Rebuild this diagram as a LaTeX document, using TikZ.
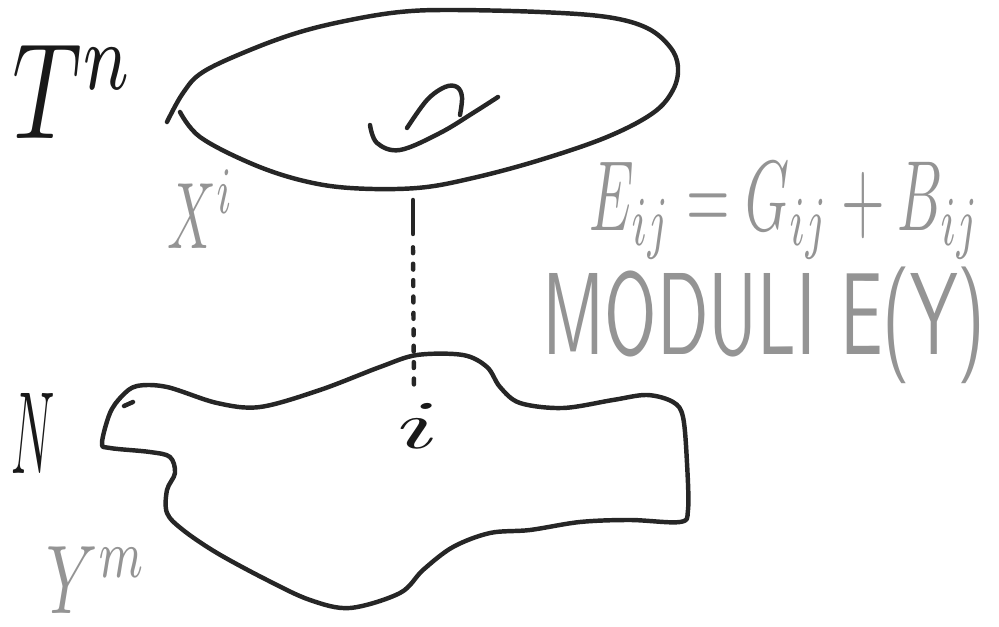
\documentclass[tikz,border=0pt]{standalone}
\usepackage{graphicx}
\begin{document}
\begin{tikzpicture}[x=0.03cm,y=-0.03cm,
  ink/.style={draw=black!85,line width=3.8pt,line cap=round,line join=round},
  pen/.style={inner sep=0pt,text=black!90},
  pencil/.style={inner sep=0pt,text=black!42}]
\useasboundingbox (0,0) rectangle (999,627);
% torus T^n
\draw[ink] plot[smooth,tension=0.6] coordinates {(167,122) (183,93) (203,72) (250,50) (300,32) (350,20) (400,12) (450,10) (540,12) (607,17) (647,28) (670,47) (678,67) (673,90) (653,113) (607,137) (540,160) (473,178) (417,188) (350,188) (300,180) (250,163) (200,137) (180,112)};
% hole
\draw[ink] plot[smooth,tension=0.6] coordinates {(370,125) (377,143) (400,150) (440,133) (473,113) (498,97)};
\draw[ink] plot[smooth,tension=0.6] coordinates {(407,128) (427,100) (445,87) (457,87) (462,97) (460,115)};
% manifold N
\draw[ink] plot[smooth cycle,tension=0.55] coordinates {(137,386) (167,387) (217,403) (260,407) (320,390) (380,367) (417,355) (463,355) (487,367) (500,387) (520,403) (563,408) (613,400) (647,395) (673,402) (683,417) (687,463) (688,510) (680,522) (630,520) (580,522) (530,530) (490,533) (453,547) (423,570) (400,593) (350,608) (310,600) (267,580) (217,553) (183,530) (167,513) (167,490) (175,473) (170,457) (150,452) (110,448) (102,443) (110,413) (122,396)};
\draw[ink] (133,402) -- (124,406);
% dashed fibre
\coordinate (ftop) at (413,200);
\coordinate (fmid) at (413,234);
\coordinate (fbot) at (414,392);
\draw[ink] (ftop) -- (fmid);
\draw[ink,dash pattern=on 5pt off 9pt] ([yshift=-0.4cm]fmid) -- (fbot);
% labels
\node[pen] (tn) at (74,92) {\resizebox*{3.66cm}{2.8cm}{$T^{n}$}};
\node[pencil] (xi) at (201,209) {\resizebox*{2.0cm}{2.34cm}{$X^{i}$}};
\node[pencil] (eq) at (785,211) {\resizebox*{11.7cm}{2.9cm}{$E_{ij}=G_{ij}+B_{ij}$}};
\node[pencil] (mod) at (764,325) {\resizebox*{13.3cm}{3.5cm}{\textsf{MODULI E(Y)}}};
\node[pen] (n) at (33,433) {\resizebox*{1.3cm}{2.4cm}{$N$}};
\node[pencil] (ym) at (97,580) {\resizebox*{3.0cm}{2.0cm}{$Y^{m}$}};
\node[pen] (il) at (419,426) {\resizebox*{1.26cm}{1.35cm}{$i$}};
\end{tikzpicture}
\end{document}
